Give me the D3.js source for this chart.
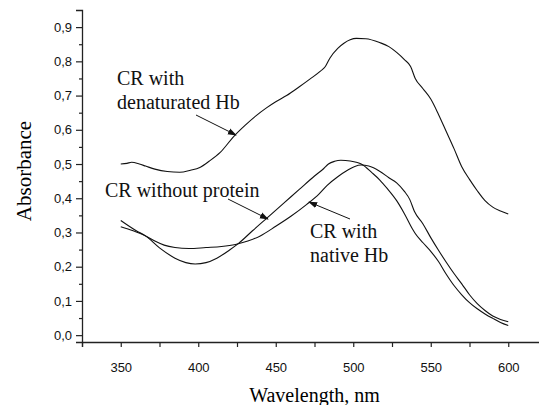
<!DOCTYPE html>
<html><head><meta charset="utf-8">
<script src="https://cdn.jsdelivr.net/npm/d3@7"></script>
<style>
html,body{margin:0;padding:0;background:#fff;}
svg{display:block;}
</style></head>
<body>
<svg id="chart" width="539" height="405"></svg>
<script>
// Wavelengths and absorbance values
const denatWl = [350,354,357,362,366,372,380,388,395,401,407,414,423,430,437,444,450,457,465,472,479,482,485,490,494,498,502,508,517,523,528,533,537,540,545,550,555,560,565,570,575,580,585,590,595,600];
const denatAbs = [0.500,0.502,0.505,0.500,0.494,0.485,0.478,0.476,0.482,0.490,0.508,0.533,0.581,0.612,0.640,0.664,0.682,0.700,0.725,0.748,0.772,0.785,0.810,0.838,0.853,0.863,0.867,0.866,0.855,0.843,0.826,0.805,0.785,0.750,0.720,0.690,0.645,0.595,0.545,0.492,0.455,0.422,0.393,0.374,0.363,0.354];

const freeWl = [350,360,366,375,385,392,398,405,412,420,426,435,445,455,465,475,481,484,488,492,498,506,512,517,522,528,533,538.5,540,545,550,555,560,565,570,575,580,585,590,595,600];
const freeAbs = [0.335,0.305,0.290,0.255,0.225,0.212,0.208,0.212,0.225,0.248,0.268,0.305,0.345,0.385,0.425,0.465,0.487,0.500,0.508,0.511,0.509,0.498,0.475,0.454,0.428,0.393,0.355,0.308,0.297,0.270,0.245,0.215,0.178,0.145,0.118,0.095,0.077,0.062,0.049,0.037,0.028];

const nativeWl = [350,358,366,372,378,385,394,405,415,424,432,440,450,460,470,478,483,490,496,501,505,510,517,523,528,533,536.5,539.5,545,550,555,560,565,570,575,580,585,590,595,600];
const nativeAbs = [0.317,0.305,0.290,0.275,0.263,0.256,0.253,0.256,0.259,0.265,0.275,0.290,0.318,0.348,0.382,0.413,0.437,0.463,0.481,0.493,0.497,0.494,0.479,0.460,0.445,0.420,0.396,0.361,0.325,0.285,0.248,0.213,0.180,0.150,0.118,0.092,0.072,0.056,0.046,0.039];

const xTicks = [350,400,450,500,550,600];
const xMinor = [325,375,425,475,525,575,625];
const yTicks = [0,0.1,0.2,0.3,0.4,0.5,0.6,0.7,0.8,0.9];
const yMinor = [0.05,0.15,0.25,0.35,0.45,0.55,0.65,0.75,0.85];

const xTitle = "Wavelength, nm";
const yTitle = "Absorbance";
const notes = [
  {lines:["CR with","denaturated Hb"], x:117, y:85, ax1:[196,115], ax2:[236,135]},
  {lines:["CR without protein"], x:105, y:197, ax1:[228,199], ax2:[268,219]},
  {lines:["CR with","native Hb"], x:310, y:238, ax1:[350,219], ax2:[309,202]}
];

const svg = d3.select("#chart");
const mLeft = 82, mRight = 547, mTop = 10, mBottom = 342;
const x = d3.scaleLinear().domain([325,625]).range([mLeft,mRight]);
const y = d3.scaleLinear().domain([-0.02,0.95]).range([mBottom,mTop]);

const fmt = d => d3.format(".1f")(d).replace(".", ",");

// axes
svg.append("g").attr("transform",`translate(0,${mBottom})`)
  .call(d3.axisBottom(x).tickValues(xTicks).tickSize(5).tickPadding(16).tickFormat(d3.format("d")));
svg.append("g").attr("transform",`translate(0,${mBottom})`)
  .call(d3.axisBottom(x).tickValues(xMinor).tickSize(5).tickFormat(""))
  .select(".domain").remove();
svg.append("g").attr("transform",`translate(${mLeft},0)`)
  .call(d3.axisLeft(y).tickValues(yTicks).tickSize(6).tickPadding(4).tickFormat(fmt));
svg.append("g").attr("transform",`translate(${mLeft},0)`)
  .call(d3.axisLeft(y).tickValues(yMinor).tickSize(3).tickFormat(""))
  .select(".domain").remove();

svg.selectAll(".domain").attr("stroke","#222").attr("stroke-width",1.3);
svg.selectAll(".tick line").attr("stroke","#222").attr("stroke-width",1.2);
svg.selectAll(".tick text").attr("font-family","Liberation Sans, Arial, sans-serif")
  .attr("font-size",13).attr("fill","#111");

// titles
svg.append("text").attr("x",(mLeft+mRight)/2).attr("y",402).attr("text-anchor","middle")
  .attr("font-family","Liberation Serif, Times New Roman, serif").attr("font-size",20).text(xTitle);
svg.append("text").attr("transform",`translate(31,171) rotate(-90)`).attr("text-anchor","middle")
  .attr("font-family","Liberation Serif, Times New Roman, serif").attr("font-size",21).text(yTitle);

// curves
const line = d3.line().x(d=>x(d[0])).y(d=>y(d[1])).curve(d3.curveMonotoneX);
const series = [d3.zip(denatWl,denatAbs), d3.zip(freeWl,freeAbs), d3.zip(nativeWl,nativeAbs)];
svg.selectAll("path.curve").data(series).join("path").attr("class","curve")
  .attr("d",line).attr("fill","none").attr("stroke","#111").attr("stroke-width",1.1);

// annotations
svg.append("defs").append("marker").attr("id","arr").attr("viewBox","0 0 10 10")
  .attr("refX",9).attr("refY",5).attr("markerWidth",9).attr("markerHeight",9)
  .attr("markerUnits","userSpaceOnUse").attr("orient","auto")
  .append("path").attr("d","M0,1.5 L10,5 L0,8.5 Z").attr("fill","#111");

notes.forEach(n=>{
  const t = svg.append("text").attr("font-family","Liberation Serif, Times New Roman, serif")
    .attr("font-size",20).attr("fill","#111");
  n.lines.forEach((s,i)=>t.append("tspan").attr("x",n.x).attr("y",n.y+i*23.5).text(s));
  svg.append("line").attr("x1",n.ax1[0]).attr("y1",n.ax1[1]).attr("x2",n.ax2[0]).attr("y2",n.ax2[1])
    .attr("stroke","#111").attr("stroke-width",1).attr("marker-end","url(#arr)");
});
</script>
</body></html>
